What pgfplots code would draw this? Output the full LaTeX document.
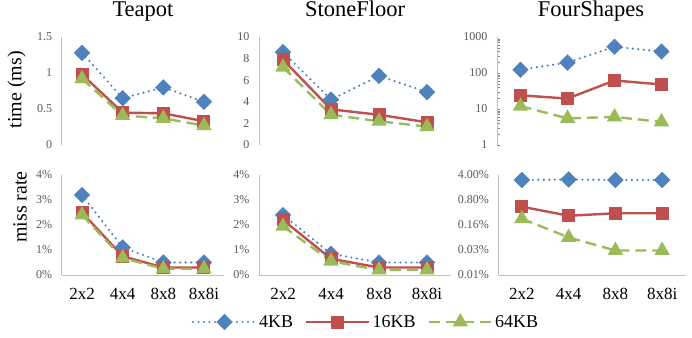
\documentclass[border=0pt]{standalone}
\usepackage{fontspec}
\setmainfont{Liberation Serif}
\usepackage{pgfplots}
\pgfplotsset{compat=1.18}
\definecolor{cb}{HTML}{4F81BD}
\definecolor{cr}{HTML}{C0504D}
\definecolor{cg}{HTML}{9BBB59}
\definecolor{axc}{HTML}{BFBFBF}
\definecolor{tk}{HTML}{595959}
\pgfplotsset{
  base/.style={scale only axis, xmin=-0.5, xmax=3.5, xtick={0,1,2,3},
    xticklabels={2x2,4x4,8x8,8x8i}, major tick length=0pt, clip=false,
    axis line style={axc, -, line width=0.8pt},
    yticklabel style={font=\fontsize{12}{12}\selectfont, text=tk, anchor=east, xshift=-6pt},
    xticklabel style={font=\fontsize{17}{17}\selectfont, anchor=base, yshift=-24pt},
    /pgf/number format/assume math mode=true},
  toprow/.style={base, height=108pt, axis x line=none, axis y line*=left,
    title style={font=\fontsize{22.5}{22.5}\selectfont, at={(0.5,1)}, anchor=base, yshift=14pt}},
  botrow/.style={base, height=100pt, axis x line*=bottom, axis y line*=left},
  s4/.style={cb, line width=2.4pt, line cap=round, dash pattern=on 0pt off 5.5pt,
    mark=square*, mark size=4.6pt, mark options={solid, rotate=45, fill=cb}},
  s16/.style={cr, line width=2.4pt, solid, mark=square*, mark size=5.3pt, mark options={solid, fill=cr}},
  s64/.style={cg, line width=2.4pt, dash pattern=on 11pt off 6pt,
    mark=triangle*, mark size=6.5pt, mark options={solid, fill=cg}},
}
\begin{document}
\begin{tikzpicture}
\path[use as bounding box] (0,0) rectangle (692pt,337pt);
% ---------- top row ----------
\begin{axis}[toprow, at={(61.7pt,192pt)}, anchor=south west, width=162.6pt,
  title={Teapot}, ymin=0, ymax=1.5, ytick={0,0.5,1,1.5}, yticklabels={0,0.5,1,1.5},
  ylabel={time (ms)}, ylabel style={font=\fontsize{20}{20}\selectfont, at={(axis description cs:-0.277,0.51)}, anchor=center}]
\addplot[s4] coordinates {(0,1.28) (1,0.65) (2,0.80) (3,0.60)};
\addplot[s16] coordinates {(0,0.98) (1,0.45) (2,0.44) (3,0.33)};
\addplot[s64] coordinates {(0,0.92) (1,0.41) (2,0.37) (3,0.27)};
\end{axis}
\begin{axis}[toprow, at={(259pt,192pt)}, anchor=south west, width=192pt,
  title={StoneFloor}, ymin=0, ymax=10, ytick={0,2,4,6,8,10}, yticklabels={0,2,4,6,8,10}]
\addplot[s4] coordinates {(0,8.6) (1,4.2) (2,6.4) (3,4.9)};
\addplot[s16] coordinates {(0,7.9) (1,3.3) (2,2.8) (3,2.1)};
\addplot[s64] coordinates {(0,7.2) (1,2.8) (2,2.2) (3,1.7)};
\end{axis}
\begin{axis}[toprow, at={(497pt,192pt)}, anchor=south west, width=188pt,
  title={FourShapes}, ymode=log, ymin=1, ymax=1000, ytick={1,10,100,1000}, yticklabels={1,10,100,1000}]
\addplot[s4] coordinates {(0,123) (1,195) (2,535) (3,395)};
\addplot[s16] coordinates {(0,24) (1,19.5) (2,62) (3,48)};
\addplot[s64] coordinates {(0,12) (1,5.5) (2,6.0) (3,4.4)};
\end{axis}
% ---------- bottom row ----------
\begin{axis}[botrow, at={(61.7pt,62pt)}, anchor=south west, width=162.6pt,
  ymin=0, ymax=4, ytick={0,1,2,3,4}, yticklabels={0\%,1\%,2\%,3\%,4\%},
  ylabel={miss rate}, ylabel style={font=\fontsize{20}{20}\selectfont, at={(axis description cs:-0.256,0.68)}, anchor=center}]
\addplot[s4] coordinates {(0,3.2) (1,1.1) (2,0.5) (3,0.5)};
\addplot[s16] coordinates {(0,2.5) (1,0.75) (2,0.3) (3,0.3)};
\addplot[s64] coordinates {(0,2.4) (1,0.68) (2,0.25) (3,0.25)};
\end{axis}
\begin{axis}[botrow, at={(259pt,62pt)}, anchor=south west, width=192pt,
  ymin=0, ymax=4, ytick={0,1,2,3,4}, yticklabels={0\%,1\%,2\%,3\%,4\%},
  legend columns=3,
  legend style={draw=none, fill=none, font=\fontsize{18}{18}\selectfont,
    at={(axis description cs:0.557,-0.47)}, anchor=center,
    /tikz/every even column/.append style={column sep=10pt}},
  legend image code/.code={\draw[mark repeat=2, mark phase=2] plot coordinates {(0pt,0pt) (31.5pt,0pt) (63pt,0pt)};}]
\addplot[s4] coordinates {(0,2.4) (1,0.85) (2,0.5) (3,0.5)};
\addlegendentry{4KB}
\addplot[s16] coordinates {(0,2.2) (1,0.65) (2,0.3) (3,0.3)};
\addlegendentry{16KB}
\addplot[s64] coordinates {(0,1.95) (1,0.55) (2,0.2) (3,0.2)};
\addlegendentry{64KB}
\end{axis}
\begin{axis}[botrow, at={(498.5pt,62pt)}, anchor=south west, width=187pt,
  ymode=log, ymin=0.0064, ymax=4, ytick={0.0064,0.032,0.16,0.8,4},
  yticklabels={0.01\%,0.03\%,0.16\%,0.80\%,4.00\%}]
\addplot[s4] coordinates {(0,2.9) (1,3.0) (2,2.9) (3,2.9)};
\addplot[s16] coordinates {(0,0.52) (1,0.29) (2,0.34) (3,0.34)};
\addplot[s64] coordinates {(0,0.24) (1,0.072) (2,0.031) (3,0.031)};
\end{axis}
\end{tikzpicture}
\end{document}
